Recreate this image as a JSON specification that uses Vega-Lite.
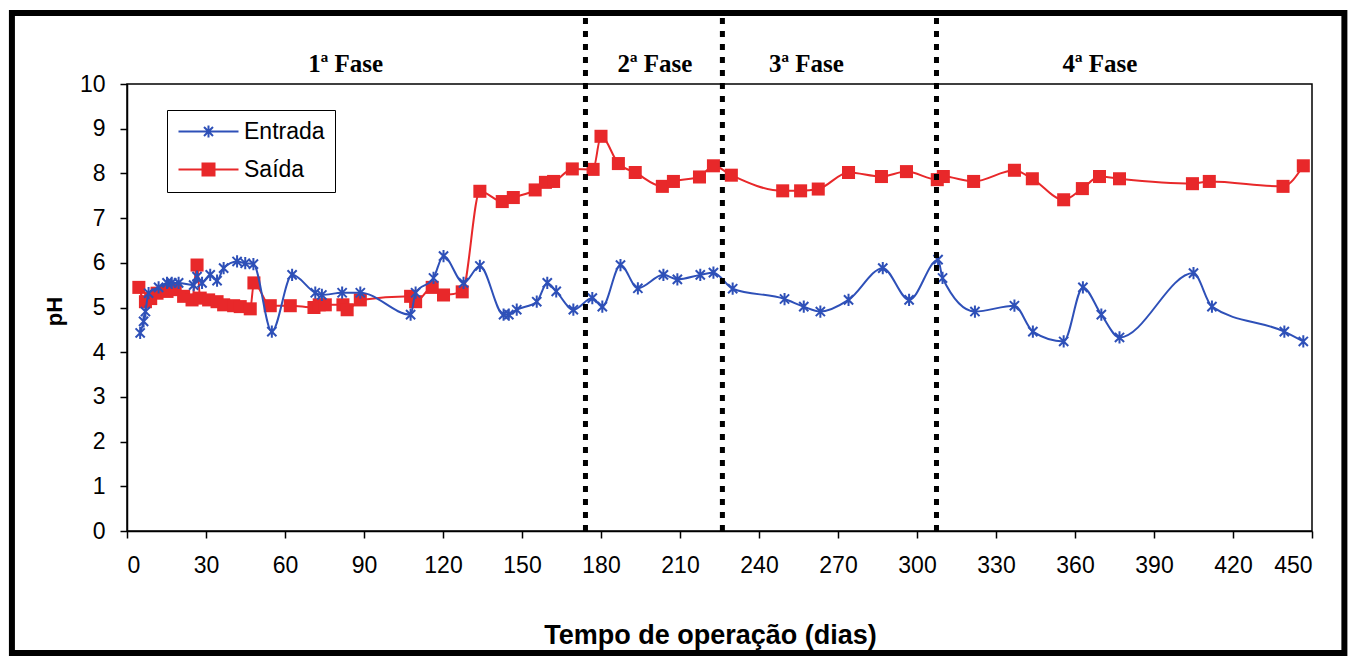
{
  "$schema": "https://vega.github.io/schema/vega-lite/v6.json",
  "width": 1185,
  "height": 447,
  "autosize": {"type": "none"},
  "padding": {"left": 127, "top": 84, "right": 39, "bottom": 126},
  "background": "white",
  "config": {
    "view": {"stroke": "black", "strokeWidth": 1.5},
    "axis": {
      "grid": false,
      "domainColor": "black",
      "domainWidth": 1.5,
      "tickColor": "black",
      "tickWidth": 1.5,
      "tickSize": 7,
      "labelFont": "Liberation Sans",
      "labelFontSize": 23,
      "labelColor": "black",
      "titleFont": "Liberation Sans",
      "titleColor": "black",
      "titleFontWeight": "bold"
    }
  },
  "datasets": {
    "entrada": [
      {"dia": 5, "pH": 4.43}, {"dia": 6.3, "pH": 4.69}, {"dia": 7, "pH": 4.91}, {"dia": 8.2, "pH": 5.32},
      {"dia": 12, "pH": 5.45}, {"dia": 15.2, "pH": 5.55}, {"dia": 17, "pH": 5.55}, {"dia": 19.6, "pH": 5.55},
      {"dia": 25.3, "pH": 5.5}, {"dia": 26.6, "pH": 5.69}, {"dia": 28.5, "pH": 5.55}, {"dia": 31.6, "pH": 5.73},
      {"dia": 34.2, "pH": 5.6}, {"dia": 36.7, "pH": 5.88}, {"dia": 41.8, "pH": 6.03}, {"dia": 44.9, "pH": 5.99},
      {"dia": 48, "pH": 5.97}, {"dia": 55, "pH": 4.46}, {"dia": 62.7, "pH": 5.73}, {"dia": 71.5, "pH": 5.33},
      {"dia": 74, "pH": 5.28}, {"dia": 81.7, "pH": 5.33}, {"dia": 88.6, "pH": 5.33}, {"dia": 107.7, "pH": 4.84},
      {"dia": 109.6, "pH": 5.33}, {"dia": 116.4, "pH": 5.66}, {"dia": 120.2, "pH": 6.15}, {"dia": 127.8, "pH": 5.55},
      {"dia": 134, "pH": 5.93}, {"dia": 143, "pH": 4.84}, {"dia": 145, "pH": 4.84}, {"dia": 148, "pH": 4.95},
      {"dia": 155.6, "pH": 5.13}, {"dia": 159.6, "pH": 5.55}, {"dia": 163, "pH": 5.36}, {"dia": 169.5, "pH": 4.95},
      {"dia": 176.7, "pH": 5.21}, {"dia": 180.5, "pH": 5.02}, {"dia": 187.4, "pH": 5.95}, {"dia": 194, "pH": 5.43},
      {"dia": 203.7, "pH": 5.73}, {"dia": 209, "pH": 5.63}, {"dia": 217.7, "pH": 5.73}, {"dia": 222.7, "pH": 5.78},
      {"dia": 230, "pH": 5.42}, {"dia": 249.7, "pH": 5.19}, {"dia": 257, "pH": 5.02}, {"dia": 263.3, "pH": 4.91},
      {"dia": 274, "pH": 5.17}, {"dia": 287, "pH": 5.88}, {"dia": 297, "pH": 5.17}, {"dia": 308, "pH": 6.07},
      {"dia": 309.7, "pH": 5.66}, {"dia": 322, "pH": 4.91}, {"dia": 337, "pH": 5.04}, {"dia": 344, "pH": 4.46},
      {"dia": 355.7, "pH": 4.24}, {"dia": 363, "pH": 5.45}, {"dia": 370, "pH": 4.84}, {"dia": 376.9, "pH": 4.33},
      {"dia": 405, "pH": 5.77}, {"dia": 412, "pH": 5.02}, {"dia": 439.5, "pH": 4.46}, {"dia": 446.7, "pH": 4.24}
    ],
    "saida": [
      {"dia": 4.5, "pH": 5.45}, {"dia": 7, "pH": 5.13}, {"dia": 9, "pH": 5.2}, {"dia": 11.4, "pH": 5.32},
      {"dia": 15.2, "pH": 5.36}, {"dia": 18.3, "pH": 5.4}, {"dia": 21.5, "pH": 5.25}, {"dia": 24.7, "pH": 5.17},
      {"dia": 26.6, "pH": 5.95}, {"dia": 27.8, "pH": 5.21}, {"dia": 31, "pH": 5.17}, {"dia": 34.2, "pH": 5.13},
      {"dia": 36.7, "pH": 5.06}, {"dia": 40.5, "pH": 5.04}, {"dia": 43, "pH": 5.02}, {"dia": 46.8, "pH": 4.97},
      {"dia": 48.2, "pH": 5.55}, {"dia": 54.4, "pH": 5.04}, {"dia": 62, "pH": 5.04}, {"dia": 71, "pH": 5.0},
      {"dia": 73, "pH": 5.06}, {"dia": 75.3, "pH": 5.06}, {"dia": 82, "pH": 5.06}, {"dia": 83.6, "pH": 4.95},
      {"dia": 88.6, "pH": 5.17}, {"dia": 107.7, "pH": 5.25}, {"dia": 109.6, "pH": 5.13}, {"dia": 115.9, "pH": 5.45},
      {"dia": 120.2, "pH": 5.28}, {"dia": 127.3, "pH": 5.35}, {"dia": 134, "pH": 7.6}, {"dia": 142.5, "pH": 7.37},
      {"dia": 146.7, "pH": 7.46}, {"dia": 155, "pH": 7.63}, {"dia": 158.9, "pH": 7.8}, {"dia": 162, "pH": 7.82},
      {"dia": 169.1, "pH": 8.1}, {"dia": 177, "pH": 8.09}, {"dia": 180, "pH": 8.83}, {"dia": 186.6, "pH": 8.22},
      {"dia": 193, "pH": 8.02}, {"dia": 203.3, "pH": 7.71}, {"dia": 207.5, "pH": 7.82}, {"dia": 217.4, "pH": 7.92},
      {"dia": 222.7, "pH": 8.17}, {"dia": 229.5, "pH": 7.96}, {"dia": 249, "pH": 7.61}, {"dia": 255.8, "pH": 7.61},
      {"dia": 262.5, "pH": 7.65}, {"dia": 274, "pH": 8.02}, {"dia": 286.5, "pH": 7.93}, {"dia": 296, "pH": 8.04},
      {"dia": 307.7, "pH": 7.86}, {"dia": 310, "pH": 7.93}, {"dia": 321.5, "pH": 7.82}, {"dia": 337, "pH": 8.07},
      {"dia": 343.8, "pH": 7.88}, {"dia": 355.7, "pH": 7.41}, {"dia": 362.8, "pH": 7.66}, {"dia": 369.3, "pH": 7.93},
      {"dia": 376.9, "pH": 7.88}, {"dia": 404.6, "pH": 7.77}, {"dia": 411, "pH": 7.82}, {"dia": 439, "pH": 7.71},
      {"dia": 446.7, "pH": 8.17}
    ],
    "fases": [
      {"label": "1ª Fase", "dia": 83},
      {"label": "2ª Fase", "dia": 200.5},
      {"label": "3ª Fase", "dia": 258},
      {"label": "4ª Fase", "dia": 369.5}
    ],
    "divisoes": [{"dia": 174.1}, {"dia": 226.1}, {"dia": 307.4}],
    "series": [{"serie": "Entrada"}, {"serie": "Saída"}],
    "moldura": [{"x0": -43.7, "x1": 462.3, "y0": -2.73, "y1": 11.59}]
  },
  "layer": [
    {
      "data": {"name": "moldura"},
      "mark": {"type": "rect", "fill": null, "stroke": "black", "strokeWidth": 6},
      "encoding": {
        "x": {"field": "x0", "type": "quantitative"},
        "x2": {"field": "x1"},
        "y": {"field": "y0", "type": "quantitative"},
        "y2": {"field": "y1"}
      }
    },
    {
      "data": {"name": "saida"},
      "mark": {"type": "line", "color": "#E8282A", "strokeWidth": 2, "interpolate": "monotone"},
      "encoding": {
        "x": {
          "field": "dia", "type": "quantitative",
          "scale": {"domain": [0, 450], "nice": false},
          "axis": {
            "values": [0, 30, 60, 90, 120, 150, 180, 210, 240, 270, 300, 330, 360, 390, 420, 450],
            "labelPadding": 16,
            "title": "Tempo de operação (dias)",
            "titleFontSize": 27,
            "titleX": 583,
            "titleY": 112,
            "titleBaseline": "alphabetic",
            "titleAnchor": "middle"
          }
        },
        "y": {
          "field": "pH", "type": "quantitative",
          "scale": {"domain": [0, 10], "nice": false},
          "axis": {
            "values": [0, 1, 2, 3, 4, 5, 6, 7, 8, 9, 10],
            "labelPadding": 15,
            "title": "pH",
            "titleFontSize": 22,
            "titleX": -73,
            "titleY": 227,
            "titleBaseline": "middle",
            "titleAnchor": "middle"
          }
        }
      }
    },
    {
      "data": {"name": "saida"},
      "mark": {"type": "point", "shape": "square", "filled": true, "color": "#E8282A", "size": 170, "opacity": 1},
      "encoding": {
        "x": {"field": "dia", "type": "quantitative"},
        "y": {"field": "pH", "type": "quantitative"}
      }
    },
    {
      "data": {"name": "entrada"},
      "mark": {"type": "line", "color": "#2E50B8", "strokeWidth": 2, "interpolate": "monotone"},
      "encoding": {
        "x": {"field": "dia", "type": "quantitative"},
        "y": {"field": "pH", "type": "quantitative"}
      }
    },
    {
      "data": {"name": "entrada"},
      "mark": {
        "type": "point",
        "shape": "M-0.75,-0.75L0.75,0.75M-0.75,0.75L0.75,-0.75M0,-1L0,1",
        "filled": false,
        "color": "#2E50B8",
        "strokeWidth": 2,
        "size": 150,
        "opacity": 1
      },
      "encoding": {
        "x": {"field": "dia", "type": "quantitative"},
        "y": {"field": "pH", "type": "quantitative"}
      }
    },
    {
      "data": {"name": "divisoes"},
      "mark": {"type": "rule", "color": "black", "strokeWidth": 5, "strokeDash": [6, 7], "strokeCap": "butt"},
      "encoding": {
        "x": {"field": "dia", "type": "quantitative"},
        "y": {"datum": 0},
        "y2": {"datum": 11.5}
      }
    },
    {
      "data": {"name": "fases"},
      "mark": {"type": "text", "font": "Liberation Serif", "fontWeight": "bold", "fontSize": 25, "color": "black", "align": "center", "baseline": "alphabetic"},
      "encoding": {
        "x": {"field": "dia", "type": "quantitative"},
        "y": {"datum": 10.27},
        "text": {"field": "label"}
      }
    },
    {
      "data": {"name": "series"},
      "mark": {"type": "point", "opacity": 0, "filled": true},
      "encoding": {
        "x": {"datum": 0},
        "y": {"datum": 0},
        "color": {
          "field": "serie", "type": "nominal",
          "scale": {"domain": ["Entrada", "Saída"], "range": ["#2E50B8", "#E8282A"]},
          "legend": {
            "orient": "none",
            "legendX": 40,
            "legendY": 26,
            "title": null,
            "strokeColor": "black",
            "fillColor": "white",
            "padding": 10,
            "symbolSize": 144,
            "symbolOffset": 20,
            "labelOffset": 24,
            "labelFont": "Liberation Sans",
            "labelFontSize": 23,
            "labelColor": "black",
            "rowPadding": 14,
            "symbolStrokeWidth": 2,
            "encode": {
              "symbols": {
                "update": {
                  "stroke": {"scale": "color", "field": "value"},
                  "fill": {"scale": "color", "field": "value"},
                  "strokeWidth": {"value": 2},
                  "opacity": {"value": 1}
                }
              }
            }
          }
        },
        "shape": {
          "field": "serie", "type": "nominal",
          "scale": {
            "domain": ["Entrada", "Saída"],
            "range": [
              "M-5,0L5,0M-0.75,-0.75L0.75,0.75M-0.75,0.75L0.75,-0.75M0,-1L0,1",
              "M-5,0L5,0M-1,-1L1,-1L1,1L-1,1Z"
            ]
          },
          "legend": {
            "orient": "none",
            "legendX": 40,
            "legendY": 26,
            "title": null
          }
        }
      }
    }
  ]
}
